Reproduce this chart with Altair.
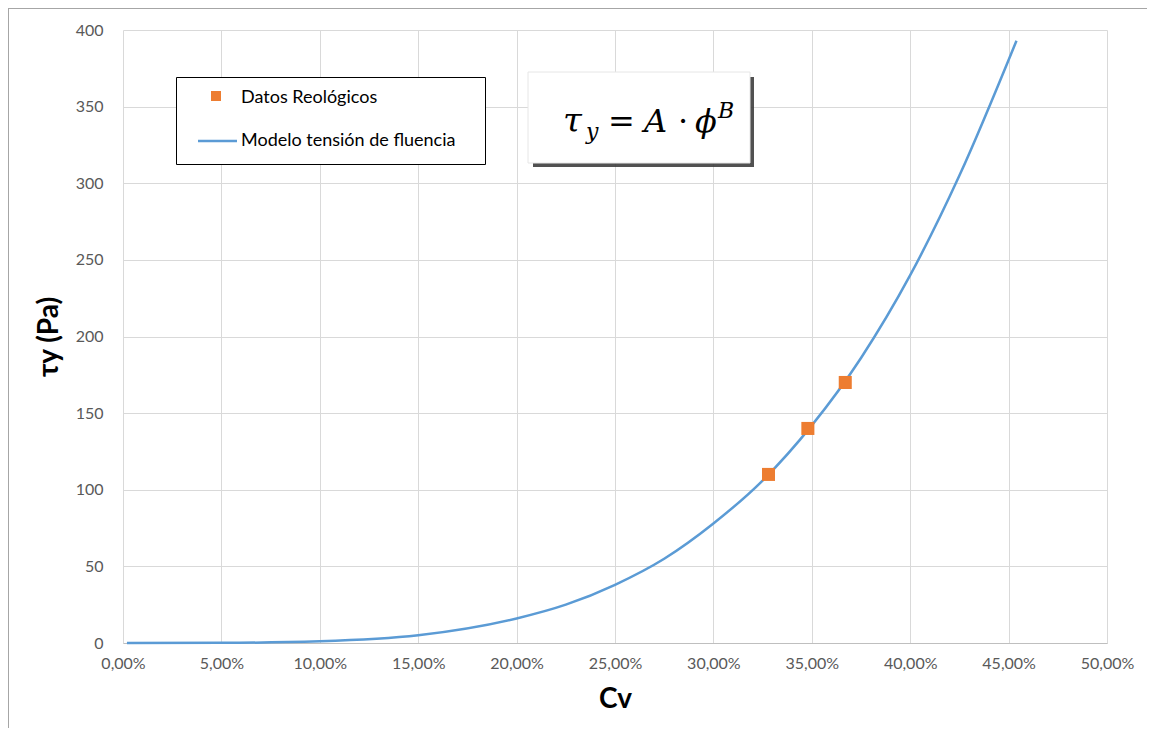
import altair as alt
import pandas as pd

# ---- data ----
cv_data = [0.328, 0.348, 0.367]
ty_data = [110, 140, 170]

cv_model = [0.002, 0.05, 0.10, 0.15, 0.20, 0.225, 0.25, 0.275, 0.30, 0.325, 0.35, 0.375, 0.40, 0.425, 0.454]
ty_model = [0.0, 0.1, 1.1, 5, 16, 25, 38, 55, 78, 106, 142, 186, 240, 305, 393]

legend_labels = ["Datos Reológicos", "Modelo tensión de fluencia"]
x_ticks = [0, 0.05, 0.10, 0.15, 0.20, 0.25, 0.30, 0.35, 0.40, 0.45, 0.50]
y_ticks = [0, 50, 100, 150, 200, 250, 300, 350, 400]

ORANGE = "#ed7d31"
BLUE = "#5b9bd5"
FONT = "Lato"
W, H = 984, 613

pts = pd.DataFrame({"cv": cv_data, "ty": ty_data, "serie": legend_labels[0]})
model = pd.DataFrame({"cv": cv_model, "ty": ty_model, "serie": legend_labels[1]})
one = pd.DataFrame({"k": [0]})

xscale = alt.Scale(domain=[0, 0.5], nice=False, zero=False)
yscale = alt.Scale(domain=[0, 400], nice=False)

x_enc = alt.X("cv:Q", scale=xscale, axis=alt.Axis(
    values=x_ticks,
    labelExpr="replace(format(datum.value, '.2%'), '.', ',')",
    title="Cv", titleFontSize=28, titleFontWeight="bold", titleColor="#000000",
    titleFont=FONT, titlePadding=14,
    labelFont=FONT, labelFontSize=16, labelColor="#595959", labelPadding=12,
    ticks=False, domain=True, domainColor="#bfbfbf",
    grid=True, gridColor="#d9d9d9", labelFlush=False))
y_enc = alt.Y("ty:Q", scale=yscale, axis=alt.Axis(
    values=y_ticks,
    title="τy (Pa)", titleFontSize=28, titleFontWeight="bold", titleColor="#000000",
    titleFont=FONT, titlePadding=12,
    labelFont=FONT, labelFontSize=16, labelColor="#595959", labelPadding=20,
    ticks=False, domain=False, grid=True, gridColor="#d9d9d9"))

# outer chart border (left and top edges visible)
border_left = alt.Chart(one).mark_rule(color="#a6a6a6", strokeWidth=1).encode(
    x=alt.value(-114.5), y=alt.value(-22), y2=alt.value(720))
border_top = alt.Chart(one).mark_rule(color="#a6a6a6", strokeWidth=1).encode(
    x=alt.value(-115), x2=alt.value(1100), y=alt.value(-21.5))

line = alt.Chart(model).mark_line(color=BLUE, strokeWidth=2.5, interpolate="monotone").encode(
    x=x_enc, y=y_enc)
points = alt.Chart(pts).mark_point(shape="square", filled=True, color=ORANGE, size=170, opacity=1).encode(
    x="cv:Q", y="ty:Q")

# legend box
leg_box = alt.Chart(one).mark_rect(fill="white", stroke="#000000", strokeWidth=1).encode(
    x=alt.value(53.5), x2=alt.value(362.5), y=alt.value(47.5), y2=alt.value(134.5))
leg_sq = alt.Chart(one).mark_point(shape="square", filled=True, color=ORANGE, size=100, opacity=1).encode(
    x=alt.value(93), y=alt.value(66))
leg_line = alt.Chart(one).mark_rule(color=BLUE, strokeWidth=2.5).encode(
    x=alt.value(75), x2=alt.value(114), y=alt.value(111))
leg_t1 = alt.Chart(one).mark_text(align="left", baseline="middle", font=FONT, fontSize=18, color="#000000",
                                  text=legend_labels[0]).encode(x=alt.value(118), y=alt.value(68))
leg_t2 = alt.Chart(one).mark_text(align="left", baseline="middle", font=FONT, fontSize=18, color="#000000",
                                  text=legend_labels[1]).encode(x=alt.value(118), y=alt.value(111))

# equation box with shadow
shadow = alt.Chart(one).mark_rect(fill="#333333", opacity=0.85).encode(
    x=alt.value(410), x2=alt.value(631), y=alt.value(47), y2=alt.value(137))
eq_box = alt.Chart(one).mark_rect(fill="white", stroke="#e6e6e6", strokeWidth=1).encode(
    x=alt.value(405), x2=alt.value(627), y=alt.value(42), y2=alt.value(133))

SERIF = "DejaVu Serif"
def eq_text(txt, x, y, size, italic=True):
    kw = dict(align="left", baseline="alphabetic", font=SERIF, fontSize=size, color="#000000", text=txt)
    if italic:
        kw["fontStyle"] = "italic"
    return alt.Chart(one).mark_text(**kw).encode(x=alt.value(x), y=alt.value(y))

eq = [
    eq_text("τ", 440, 102, 34),
    eq_text("y", 463, 109, 22),
    eq_text("=", 485, 102, 32, italic=False),
    eq_text("A", 521, 102, 32),
    eq_text("·", 555, 102, 32, italic=False),
    eq_text("ϕ", 572, 102, 32),
    eq_text("B", 595, 88, 22),
]

chart = alt.layer(border_left, border_top, line, points, leg_box, leg_sq, leg_line, leg_t1, leg_t2,
                  shadow, eq_box, *eq).properties(
    width=W, height=H,
    autosize=alt.AutoSizeParams(type="none"),
    padding={"left": 115, "top": 22, "right": 40, "bottom": 85},
    background="white",
).configure_view(strokeWidth=0)

chart.save("out.html", embed_options={"renderer": "svg", "actions": False})
